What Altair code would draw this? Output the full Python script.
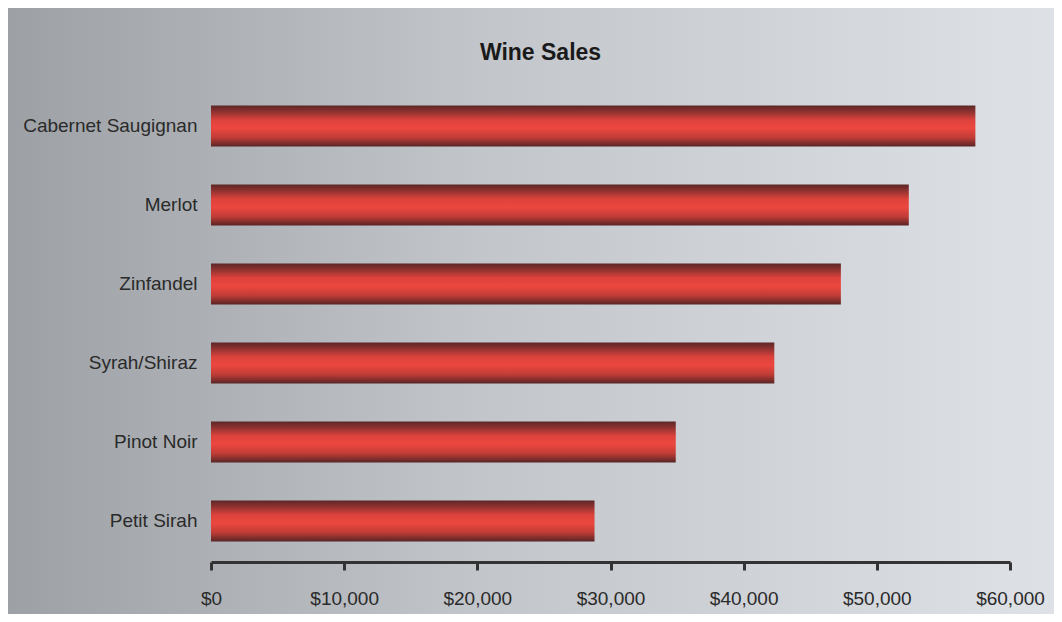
import altair as alt
import pandas as pd

wines = ["Cabernet Saugignan", "Merlot", "Zinfandel", "Syrah/Shiraz", "Pinot Noir", "Petit Sirah"]
sales = [57400, 52400, 47300, 42300, 34900, 28800]
x_ticks = [0, 10000, 20000, 30000, 40000, 50000, 60000]

df = pd.DataFrame({"wine": wines, "sales": sales})

W, H = 799, 477
PL, PT, PR, PB = 203, 77, 44, 52

bg = alt.Chart(alt.Data(values=[{}])).mark_rect(
    color=alt.LinearGradient(
        gradient="linear", x1=0, y1=0, x2=1, y2=0,
        stops=[
            alt.GradientStop(offset=0, color="#9da1a6"),
            alt.GradientStop(offset=0.45, color="#c2c5c9"),
            alt.GradientStop(offset=1, color="#dee1e5"),
        ],
    )
).encode(
    x=alt.value(-PL), x2=alt.value(W + PR),
    y=alt.value(-PT), y2=alt.value(H + PB),
)

bars = alt.Chart(df).mark_bar(
    color=alt.LinearGradient(
        gradient="linear", x1=0, y1=0, x2=0, y2=1,
        stops=[
            alt.GradientStop(offset=0, color="#5c2626"),
            alt.GradientStop(offset=0.15, color="#8e3230"),
            alt.GradientStop(offset=0.35, color="#dc423b"),
            alt.GradientStop(offset=0.55, color="#ec473f"),
            alt.GradientStop(offset=0.78, color="#c03c36"),
            alt.GradientStop(offset=1, color="#582525"),
        ],
    ),
    cornerRadius=0,
).encode(
    x=alt.X("sales:Q",
            scale=alt.Scale(domain=[0, 60000], nice=False),
            axis=alt.Axis(values=x_ticks, format="$,d", title=None, grid=False,
                          domainColor="#333333", domainWidth=3,
                          tickColor="#333333", tickWidth=3, tickSize=8,
                          labelFont="Liberation Sans", labelFontSize=19,
                          labelColor="#2a2a2a", labelPadding=19, labelFlush=False,
                          zindex=2)),
    y=alt.Y("wine:N", sort=wines,
            scale=alt.Scale(paddingInner=0.48, paddingOuter=0.26),
            axis=alt.Axis(title=None, domain=False, ticks=False, grid=False,
                          labelFont="Liberation Sans", labelFontSize=19,
                          labelColor="#2a2a2a", labelPadding=14, zindex=2)),
)

chart = alt.layer(bg, bars).properties(
    width=W, height=H,
    title=alt.TitleParams("Wine Sales", font="Liberation Sans", fontSize=23,
                          fontWeight="bold", color="#1a1a1a", offset=-57, dx=-70,
                          anchor="middle", zindex=2),
    autosize=alt.AutoSizeParams(type="none"),
    padding={"left": PL, "top": PT, "right": PR, "bottom": PB},
).configure_view(stroke=None).configure(background="white")

chart.save("out.html", embed_options={"renderer": "svg", "actions": False})
